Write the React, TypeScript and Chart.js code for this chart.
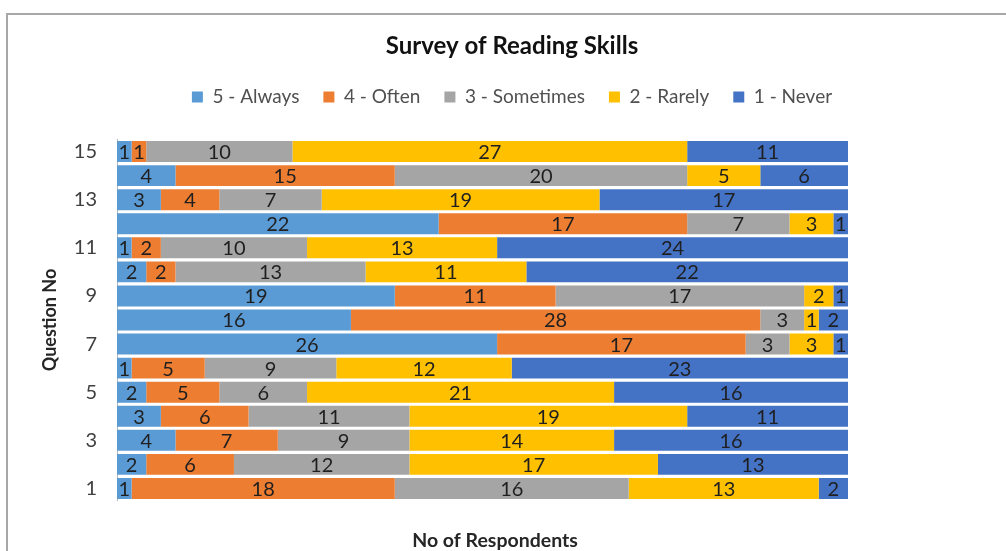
import React, { useEffect, useRef } from "react";
import { Chart, registerables } from "chart.js";

Chart.register(...registerables);

const questions = ["1", "2", "3", "4", "5", "6", "7", "8", "9", "10", "11", "12", "13", "14", "15"];
const always = [1, 2, 4, 3, 2, 1, 26, 16, 19, 2, 1, 22, 3, 4, 1];
const often = [18, 6, 7, 6, 5, 5, 17, 28, 11, 2, 2, 17, 4, 15, 1];
const sometimes = [16, 12, 9, 11, 6, 9, 3, 3, 17, 13, 10, 7, 7, 20, 10];
const rarely = [13, 17, 14, 19, 21, 12, 3, 1, 2, 11, 13, 3, 19, 5, 27];
const never = [2, 13, 16, 11, 16, 23, 1, 2, 1, 22, 24, 1, 17, 6, 11];

const seriesNames = ["5 - Always", "4 - Often", "3 - Sometimes", "2 - Rarely", "1 - Never"];
const seriesColors = ["#5B9BD5", "#ED7D31", "#A5A5A5", "#FFC000", "#4472C4"];
const seriesValues = [always, often, sometimes, rarely, never];

const chartTitle = "Survey of Reading Skills";
const xTitle = "No of Respondents";
const yTitle = "Question No";

const FONT = "Lato, 'Noto Sans', sans-serif";

const dataLabels = {
  id: "dataLabels",
  afterDatasetsDraw(chart: any) {
    const ctx = chart.ctx;
    ctx.save();
    ctx.font = `20px ${FONT}`;
    ctx.fillStyle = "#1f1f1f";
    ctx.textAlign = "center";
    ctx.textBaseline = "middle";
    chart.data.datasets.forEach((ds: any, di: number) => {
      const meta = chart.getDatasetMeta(di);
      meta.data.forEach((el: any, i: number) => {
        const v = ds.data[i];
        if (!v) return;
        const { x, base, y } = el.getProps(["x", "base", "y"], true);
        ctx.fillText(String(v), (x + base) / 2, y + 1);
      });
    });
    ctx.restore();
  },
};

const xAxisTitle = {
  id: "xAxisTitle",
  afterDraw(chart: any) {
    const ctx = chart.ctx;
    ctx.save();
    ctx.font = `bold 19.5px ${FONT}`;
    ctx.fillStyle = "#262626";
    ctx.textAlign = "center";
    ctx.textBaseline = "middle";
    ctx.fillText(xTitle, 495, 541);
    ctx.restore();
  },
};

export default function App() {
  const ref = useRef<HTMLCanvasElement | null>(null);
  useEffect(() => {
    if (!ref.current) return;
    const chart = new Chart(ref.current, {
      type: "bar",
      data: {
        labels: questions,
        datasets: seriesNames.map((name, i) => ({
          label: name,
          data: seriesValues[i],
          backgroundColor: seriesColors[i],
          borderWidth: 0,
          barPercentage: 1,
          categoryPercentage: 0.87,
        })),
      },
      options: {
        responsive: false,
        animation: false,
        indexAxis: "y",
        layout: { padding: { left: 18, right: 0, top: 0, bottom: 50.5 } },
        plugins: {
          tooltip: { enabled: false },
          title: {
            display: true,
            text: chartTitle,
            color: "#111111",
            font: { family: FONT, size: 24, weight: "bold" },
            padding: { top: 31.6, bottom: 3.1 },
          },
          legend: {
            display: true,
            position: "top",
            labels: {
              boxWidth: 11,
              boxHeight: 11,
              padding: 24,
              color: "#505050",
              font: { family: FONT, size: 19 },
            },
          },
        },
        scales: {
          x: {
            stacked: true,
            min: 0,
            max: 50,
            position: "top",
            display: true,
            ticks: { display: false },
            grid: { display: false, drawTicks: false },
            border: { display: false },
            afterFit(s: any) {
              s.height = 23;
            },
          },
          y: {
            stacked: true,
            reverse: true,
            grid: { display: false, drawTicks: false },
            border: { display: true, color: "#b5b5b5", width: 1 },
            ticks: {
              autoSkip: false,
              padding: 20,
              color: "#404040",
              font: { family: FONT, size: 20 },
              callback(this: any, value: any) {
                const lbl = this.getLabelForValue(value);
                return Number(lbl) % 2 === 1 ? lbl : "";
              },
            },
            title: {
              display: true,
              text: yTitle,
              color: "#262626",
              font: { family: FONT, size: 18, weight: "bold" },
              padding: { top: 21, bottom: 0 },
            },
            afterFit(s: any) {
              s.width = 99;
            },
          },
          yRight: {
            type: "category",
            position: "right",
            display: true,
            ticks: { display: false },
            grid: { display: false, drawTicks: false },
            border: { display: false },
            afterFit(s: any) {
              s.width = 158;
            },
          },
        },
      },
      plugins: [dataLabels, xAxisTitle],
    });
    return () => chart.destroy();
  }, []);

  return (
    <div style={{ position: "fixed", left: 0, top: 0, width: 1006, height: 551, background: "#fff", overflow: "hidden" }}>
      <div
        style={{
          position: "absolute",
          left: 6,
          top: 13,
          width: 1100,
          height: 700,
          borderLeft: "2px solid #a8a8a8",
          borderTop: "2px solid #a8a8a8",
        }}
      />
      <canvas ref={ref} width={1006} height={551} style={{ position: "absolute", left: 0, top: 0, display: "block" }} />
    </div>
  );
}
